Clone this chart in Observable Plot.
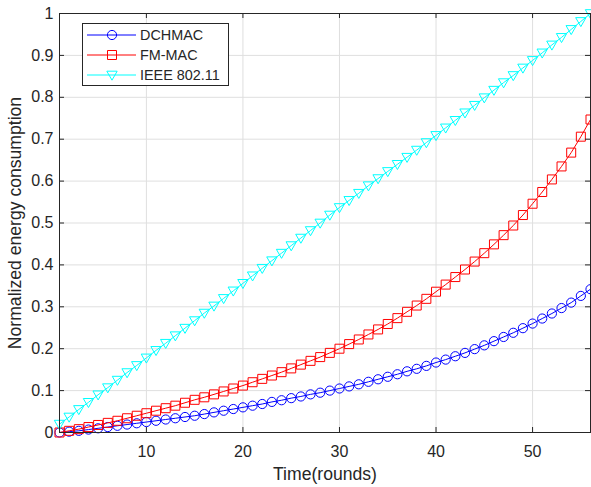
<!DOCTYPE html>
<html><head><meta charset="utf-8">
<script src="https://cdn.jsdelivr.net/npm/d3@7"></script>
<script src="https://cdn.jsdelivr.net/npm/@observablehq/plot@0.6"></script>
<style>
body{margin:0;background:#fff;}
#wrap{position:relative;width:591px;height:487px;font-family:"Liberation Sans",Arial,Helvetica,sans-serif;}
#legend{position:absolute;left:0;top:0;}
</style></head><body><div id="wrap"></div>
<script>
const rounds = [1,2,3,4,5,6,7,8,9,10,11,12,13,14,15,16,17,18,19,20,21,22,23,24,25,26,27,28,29,30,31,32,33,34,35,36,37,38,39,40,41,42,43,44,45,46,47,48,49,50,51,52,53,54,55,56];
const dchmac = [0.000,0.002,0.004,0.007,0.010,0.013,0.016,0.019,0.022,0.025,0.028,0.031,0.034,0.037,0.040,0.044,0.048,0.052,0.056,0.060,0.064,0.068,0.073,0.077,0.082,0.086,0.091,0.095,0.100,0.105,0.110,0.115,0.121,0.127,0.133,0.139,0.146,0.152,0.159,0.167,0.174,0.182,0.190,0.199,0.208,0.218,0.228,0.238,0.249,0.260,0.272,0.284,0.297,0.310,0.326,0.342];
const fmmac = [0.000,0.004,0.008,0.013,0.018,0.023,0.028,0.034,0.040,0.046,0.052,0.058,0.064,0.071,0.078,0.084,0.091,0.098,0.105,0.112,0.120,0.128,0.136,0.144,0.153,0.162,0.171,0.180,0.190,0.200,0.211,0.222,0.234,0.246,0.259,0.273,0.288,0.303,0.319,0.336,0.353,0.371,0.389,0.408,0.428,0.449,0.471,0.494,0.519,0.546,0.574,0.604,0.635,0.668,0.706,0.747];
const ieee = [0.020,0.037,0.055,0.072,0.090,0.107,0.125,0.143,0.160,0.178,0.196,0.213,0.231,0.249,0.267,0.285,0.302,0.320,0.338,0.356,0.374,0.392,0.410,0.428,0.446,0.464,0.482,0.500,0.519,0.537,0.554,0.571,0.589,0.606,0.623,0.640,0.657,0.674,0.692,0.709,0.727,0.745,0.763,0.781,0.799,0.817,0.835,0.852,0.870,0.888,0.906,0.925,0.943,0.962,0.981,1.000];
const seriesNames = ["DCHMAC", "FM-MAC", "IEEE 802.11"];
const seriesColors = ["#0000ff", "#ff0000", "#00ffff"];
const xTicks = [10, 20, 30, 40, 50];
const yTicks = [0, 0.1, 0.2, 0.3, 0.4, 0.5, 0.6, 0.7, 0.8, 0.9, 1];
const xLabel = "Time(rounds)";
const yLabel = "Normalized energy consumption";

const circleSym = {draw(ctx, size){const r = Math.sqrt(size/Math.PI); ctx.moveTo(r,0); ctx.arc(0,0,r,0,2*Math.PI); ctx.closePath();}};
const squareSym = {draw(ctx, size){const r = Math.sqrt(size/Math.PI); ctx.moveTo(-r,-r); ctx.lineTo(r,-r); ctx.lineTo(r,r); ctx.lineTo(-r,r); ctx.closePath();}};
const triDownSym = {draw(ctx, size){const r = Math.sqrt(size/Math.PI); ctx.moveTo(-1.15*r,-0.85*r); ctx.lineTo(1.15*r,-0.85*r); ctx.lineTo(0,1.15*r); ctx.closePath();}};
const symbols = [circleSym, squareSym, triDownSym];
const radii = [4.6, 4.5, 4.5];
const seriesValues = [dchmac, fmmac, ieee];

const W = 591, H = 487, mL = 59, mR = 1, mT = 13, mB = 55;
const fw = W - mL - mR, fh = H - mT - mB;
const ink = "#262626";

const seriesMarks = seriesValues.flatMap((vals, k) => {
  const data = rounds.map((x, i) => ({x, y: vals[i]}));
  return [
    Plot.line(data, {x: "x", y: "y", stroke: seriesColors[k], strokeWidth: 1}),
    Plot.dot(data, {x: "x", y: "y", stroke: seriesColors[k], fill: "none", strokeWidth: 1, r: radii[k], symbol: symbols[k]})
  ];
});

const chart = Plot.plot({
  width: W, height: H,
  marginLeft: mL, marginRight: mR, marginTop: mT, marginBottom: mB,
  style: {fontFamily: '"Liberation Sans", Arial, Helvetica, sans-serif', color: ink, background: "#fff", overflow: "visible"},
  x: {domain: [1, 56]},
  y: {domain: [0, 1]},
  marks: [
    Plot.gridX(xTicks, {stroke: "#dfdfdf", strokeOpacity: 1, strokeWidth: 1}),
    Plot.gridY(yTicks, {stroke: "#dfdfdf", strokeOpacity: 1, strokeWidth: 1}),
    ...seriesMarks,
    Plot.frame({stroke: ink, strokeWidth: 1}),
    Plot.tickX(xTicks, {x: d => d, stroke: ink, insetTop: fh - 5}),
    Plot.tickX(xTicks, {x: d => d, stroke: ink, insetBottom: fh - 5}),
    Plot.tickY(yTicks, {y: d => d, stroke: ink, insetRight: fw - 5}),
    Plot.tickY(yTicks, {y: d => d, stroke: ink, insetLeft: fw - 5}),
    Plot.axisX({ticks: xTicks, tickSize: 0, tickPadding: 13, fontSize: 16, label: null, fill: ink}),
    Plot.axisY({ticks: yTicks, tickSize: 0, tickPadding: 6, fontSize: 16, label: null, fill: ink, tickFormat: d => String(+d.toFixed(1))}),
    Plot.text([xLabel], {frameAnchor: "bottom", textAnchor: "middle", lineAnchor: "middle", text: d => d, dy: 41.4, fontSize: 17.6, fill: ink}),
    Plot.text([yLabel], {frameAnchor: "left", textAnchor: "middle", lineAnchor: "middle", text: d => d, rotate: -90, dx: -43.7, fontSize: 17.6, fill: ink})
  ]
});
const wrap = document.getElementById("wrap");
wrap.appendChild(chart);

// legend overlay
const leg = d3.select(wrap).append("svg").attr("id", "legend").attr("width", W).attr("height", H);
leg.append("rect").attr("x", 82.5).attr("y", 23.5).attr("width", 146).attr("height", 62)
  .attr("fill", "#fff").attr("stroke", ink).attr("stroke-width", 1);
seriesNames.forEach((name, k) => {
  const cy = 35 + k * 20;
  leg.append("line").attr("x1", 87).attr("x2", 136).attr("y1", cy).attr("y2", cy)
    .attr("stroke", seriesColors[k]).attr("stroke-width", 1);
  leg.append("path").attr("transform", `translate(112,${cy})`)
    .attr("d", d3.symbol(symbols[k], Math.PI * radii[k] * radii[k])())
    .attr("fill", "none").attr("stroke", seriesColors[k]).attr("stroke-width", 1);
  leg.append("text").attr("x", 140).attr("y", cy).attr("dy", "0.35em")
    .attr("font-size", 14.4).attr("fill", ink)
    .style("font-family", '"Liberation Sans", Arial, Helvetica, sans-serif').text(name);
});
</script></body></html>
